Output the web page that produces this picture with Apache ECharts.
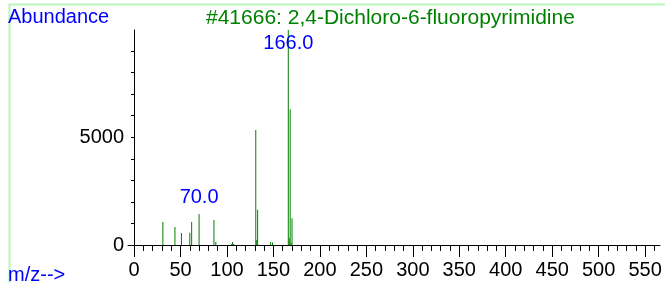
<!DOCTYPE html>
<html>
<head>
<meta charset="utf-8">
<script src="https://cdn.jsdelivr.net/npm/echarts@6/dist/echarts.min.js"></script>
<style>
  html, body { margin: 0; padding: 0; background: #fff; }
  #chart { width: 665px; height: 283px; }
</style>
</head>
<body>
<div id="chart"></div>
<script>
// peaks (m/z, abundance)
const mzValues = [31, 44, 51, 60, 62, 70, 86, 88, 105, 106, 107, 131, 132, 133, 147, 149, 166, 167, 168, 169, 170];
const abundances = [1070, 840, 560, 570, 1070, 1440, 1160, 140, 50, 140, 50, 5340, 230, 1640, 140, 120, 9980, 310, 6300, 100, 1240];
const labeledPeaks = [70, 166];

const xMajorTicks = [0, 50, 100, 150, 200, 250, 300, 350, 400, 450, 500, 550];
const xMinorTicks = [];
for (let v = 0; v <= 560; v += 10) xMinorTicks.push(v);
const yTicks = [0, 1000, 2000, 3000, 4000, 5000, 6000, 7000, 8000, 9000];
const yTickLabels = [0, 5000];

const font = 'Liberation Sans, Arial, sans-serif';
const chart = echarts.init(document.getElementById('chart'), null, { renderer: 'canvas' });

const data = mzValues.map(function (mz, i) {
    const item = { value: [mz, abundances[i]] };
    if (labeledPeaks.indexOf(mz) >= 0) {
        item.label = {
            show: true,
            position: mz === 166 ? 'insideTop' : 'top',
            distance: mz === 166 ? 3 : 6,
            formatter: mz.toFixed(1),
            color: '#0000ff',
            fontSize: 20,
            fontFamily: font
        };
    }
    return item;
});

const option = {
    backgroundColor: '#ffffff',
    animation: false,
    graphic: [{
        type: 'rect',
        left: 7, top: 2,
        shape: { width: 700, height: 300 },
        style: { fill: 'none', stroke: '#b8f5b8', lineWidth: 2 },
        silent: true
    }],
    title: [
        { text: '#41666: 2,4-Dichloro-6-fluoropyrimidine', left: 206, top: 8, padding: 0,
          textStyle: { fontSize: 21, fontWeight: 'normal', color: '#008000', fontFamily: font } },
        { text: 'Abundance', left: 8, top: 7, padding: 0,
          textStyle: { fontSize: 20, fontWeight: 'normal', color: '#0000ff', fontFamily: font } },
        { text: 'm/z-->', left: 8, top: 265, padding: 0,
          textStyle: { fontSize: 20, fontWeight: 'normal', color: '#0000ff', fontFamily: font } }
    ],
    grid: { left: 128, right: 5, top: 30, bottom: 38, containLabel: false },
    xAxis: [
        {
            type: 'value', min: -6.5, max: 566,
            axisLine: { show: true, lineStyle: { color: '#000', width: 1 } },
            axisTick: { show: true, customValues: xMajorTicks, length: 12, lineStyle: { color: '#000' } },
            axisLabel: { customValues: xMajorTicks, fontSize: 20, color: '#000', margin: 15, fontFamily: font },
            splitLine: { show: false }
        },
        {
            type: 'value', min: -6.5, max: 566, position: 'bottom',
            axisLine: { show: false },
            axisTick: { show: true, customValues: xMinorTicks, length: 6, lineStyle: { color: '#000' } },
            axisLabel: { show: false },
            splitLine: { show: false }
        }
    ],
    yAxis: {
        type: 'value', min: 0, max: 9980,
        axisLine: { show: true, lineStyle: { color: '#000', width: 1 } },
        axisTick: { show: true, customValues: yTicks, length: 3, lineStyle: { color: '#000' } },
        axisLabel: {
            customValues: yTickLabels, fontSize: 20, color: '#000', margin: 4, fontFamily: font,
            formatter: function (v) { return String(v); }
        },
        splitLine: { show: false }
    },
    series: [{
        type: 'bar',
        xAxisIndex: 0,
        barWidth: 1,
        itemStyle: { color: '#008000' },
        data: data
    }]
};

chart.setOption(option);
</script>
</body>
</html>
